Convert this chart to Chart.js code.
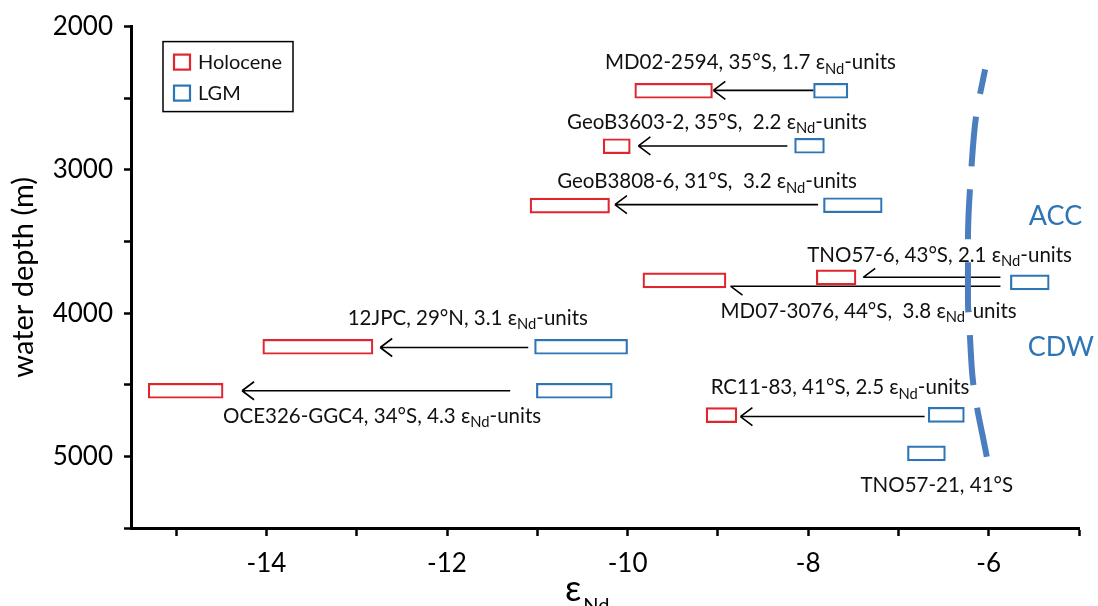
<!DOCTYPE html>
<html>
<head>
<meta charset="utf-8">
<script src="https://cdn.jsdelivr.net/npm/chart.js@4.4.1/dist/chart.umd.min.js"></script>
<style>
    html, body { margin: 0; padding: 0; background: #fff; }
    #wrap { width: 1098px; height: 606px; }
</style>
</head>
<body>
<div id="wrap"><canvas id="chart"></canvas></div>
<script>
// εNd ranges and water depths (m)
const holoceneCores = ['MD02-2594', 'GeoB3603-2', 'GeoB3808-6', 'TNO57-6', 'MD07-3076', '12JPC', 'OCE326-GGC4', 'RC11-83'];
const holoceneMin = [-9.92, -10.27, -11.08, -7.91, -9.83, -14.04, -15.31, -9.13];
const holoceneMax = [-9.06, -9.97, -10.20, -7.47, -8.91, -12.82, -14.48, -8.79];
const holoceneDepth = [2448, 2835, 3250, 3750, 3771, 4235, 4542, 4712];

const lgmCores = ['MD02-2594', 'GeoB3603-2', 'GeoB3808-6', 'TNO57-6 / MD07-3076', '12JPC', 'OCE326-GGC4', 'RC11-83', 'TNO57-21'];
const lgmMin = [-7.94, -8.15, -7.83, -5.76, -11.03, -11.01, -6.67, -6.90];
const lgmMax = [-7.56, -7.82, -7.18, -5.33, -10.00, -10.17, -6.27, -6.48];
const lgmDepth = [2448, 2832, 3247, 3785, 4235, 4542, 4710, 4979];

// arrows LGM -> Holocene
const arrowFrom = [-7.94, -8.23, -7.89, -5.87, -5.87, -11.10, -11.30, -6.71];
const arrowTo = [-9.05, -9.88, -10.14, -7.39, -8.86, -12.74, -14.27, -8.75];
const arrowDepth = [2445, 2833, 3243, 3750, 3812, 4240, 4542, 4722];
const arrowHead = ['full', 'full', 'full', 'up', 'down', 'full', 'full', 'full'];

// core labels, {..} = subscript
const labelText = ['MD02-2594, 35°S, 1.7 ε{Nd}-units', 'GeoB3603-2, 35°S,  2.2 ε{Nd}-units', 'GeoB3808-6, 31°S,  3.2 ε{Nd}-units',
    'TNO57-6, 43°S, 2.1 ε{Nd}-units', 'MD07-3076, 44°S,  3.8 ε{Nd}-units', '12JPC, 29°N, 3.1 ε{Nd}-units',
    'OCE326-GGC4, 34°S, 4.3 ε{Nd}-units', 'RC11-83, 41°S, 2.5 ε{Nd}-units', 'TNO57-21, 41°S'];
const labelX = [-10.25, -10.67, -10.78, -8.01, -8.97, -13.10, -14.48, -9.08, -7.42];
const labelDepth = [2253, 2667, 3083, 3597, 3986, 4035, 4722, 4521, 5201];

// ACC / CDW boundary
const frontX = [-6.04, -6.14, -6.19, -6.23, -6.23, -6.21, -6.17, -6.02];
const frontDepth = [2299, 2625, 2972, 3493, 3910, 4139, 4500, 5007];
const waterMasses = ['ACC', 'CDW'];
const waterMassX = [-5.26, -5.20];
const waterMassDepth = [3326, 4236];

const xTickValues = [-15, -14, -13, -12, -11, -10, -9, -8, -7, -6, -5];
const yTickValues = [2000, 2500, 3000, 3500, 4000, 4500, 5000, 5500];

const RED = '#e0262c';
const BLUE = '#2e75b6';
const FONT = 'Lato, "Noto Sans", sans-serif';

function drawRich(ctx, text, px, py, size) {
    const parts = text.split(/\{|\}/);
    ctx.textBaseline = 'middle';
    ctx.textAlign = 'left';
    parts.forEach((p, k) => {
        const sub = k % 2 === 1;
        ctx.font = (sub ? size * 0.72 : size) + 'px ' + FONT;
        ctx.fillText(p, px, py + (sub ? size * 0.3 : 0));
        px += ctx.measureText(p).width;
    });
}

const annotations = {
    id: 'annotations',
    beforeDatasetsDraw(chart) {
        const { ctx, chartArea, scales: { x, y } } = chart;
        ctx.save();
        // arrows
        ctx.strokeStyle = '#000';
        ctx.lineWidth = 1.6;
        arrowFrom.forEach((from, i) => {
            const x0 = x.getPixelForValue(from);
            const x1 = x.getPixelForValue(arrowTo[i]);
            const py = y.getPixelForValue(arrowDepth[i]);
            ctx.beginPath();
            ctx.moveTo(x0, py);
            ctx.lineTo(x1, py);
            if (arrowHead[i] !== 'down') { ctx.moveTo(x1 + 12, py - 9); ctx.lineTo(x1, py); }
            if (arrowHead[i] !== 'up') { ctx.moveTo(x1, py); ctx.lineTo(x1 + 12, py + 9); }
            ctx.stroke();
        });
        // core labels
        ctx.fillStyle = '#111';
        labelText.forEach((t, i) => {
            drawRich(ctx, t, x.getPixelForValue(labelX[i]), y.getPixelForValue(labelDepth[i]), 20.5);
        });
        // water masses
        ctx.fillStyle = BLUE;
        ctx.font = '27px ' + FONT;
        ctx.textAlign = 'center';
        waterMasses.forEach((t, i) => {
            ctx.fillText(t, x.getPixelForValue(waterMassX[i]), y.getPixelForValue(waterMassDepth[i]));
        });
        // legend
        const lx = chartArea.left + 32, ly = chartArea.top + 15;
        ctx.strokeStyle = '#000';
        ctx.lineWidth = 1.5;
        ctx.strokeRect(lx, ly, 130, 70);
        [['Holocene', RED], ['LGM', BLUE]].forEach(([name, col], k) => {
            const ry = ly + 13 + k * 31;
            ctx.strokeStyle = col;
            ctx.lineWidth = 2.2;
            ctx.strokeRect(lx + 11, ry, 16, 15);
            ctx.fillStyle = '#111';
            ctx.font = '20px ' + FONT;
            ctx.textAlign = 'left';
            ctx.textBaseline = 'middle';
            ctx.fillText(name, lx + 35, ry + 8);
        });
        // x-axis title
        const tx = (chartArea.left + chartArea.right) / 2 - 40;
        ctx.fillStyle = '#000';
        ctx.textBaseline = 'alphabetic';
        ctx.font = '36px ' + FONT;
        ctx.fillText('ε', tx, 601);
        const w = ctx.measureText('ε').width;
        ctx.font = '20px ' + FONT;
        ctx.fillText('Nd', tx + w + 2, 612);
        ctx.restore();
    }
};

const ctx = document.querySelector('#chart').getContext('2d');
const chart = new Chart(ctx, {
    type: 'bar',
    data: {
        datasets: [{
            label: 'Holocene',
            data: holoceneDepth.map((d, i) => ({ x: [holoceneMin[i], holoceneMax[i]], y: d })),
            backgroundColor: '#fff',
            borderColor: RED,
            borderWidth: 2.2,
            borderSkipped: false,
            barThickness: 15,
            stack: 'cores',
            order: 2
        }, {
            label: 'LGM',
            data: lgmDepth.map((d, i) => ({ x: [lgmMin[i], lgmMax[i]], y: d })),
            backgroundColor: '#fff',
            borderColor: BLUE,
            borderWidth: 2.2,
            borderSkipped: false,
            barThickness: 15,
            stack: 'cores',
            order: 2
        }, {
            type: 'line',
            label: 'ACC / CDW',
            data: frontDepth.map((d, i) => ({ x: frontX[i], y: d })),
            borderColor: '#4a7ebf',
            borderWidth: 6,
            borderDash: [50, 23],
            borderDashOffset: 25,
            borderCapStyle: 'butt',
            cubicInterpolationMode: 'monotone',
            pointRadius: 0,
            fill: false,
            order: 1
        }]
    },
    options: {
        indexAxis: 'y',
        responsive: true,
        maintainAspectRatio: false,
        animation: false,
        events: [],
        layout: { padding: { top: 25, right: 19, left: 0, bottom: 0 } },
        plugins: { legend: { display: false }, tooltip: { enabled: false } },
        scales: {
            x: {
                type: 'linear',
                min: -15.5,
                max: -5,
                stacked: false,
                offset: false,
                afterBuildTicks: s => { s.ticks = xTickValues.map(v => ({ value: v })); },
                afterFit: s => { s.height = 78; },
                ticks: {
                    autoSkip: false,
                    maxRotation: 0,
                    padding: 12,
                    color: '#000',
                    font: { family: FONT, size: 26 },
                    callback: v => (v % 2 === 0 ? String(v) : '')
                },
                grid: { drawOnChartArea: false, offset: false, tickLength: 8, tickWidth: 2.5, tickColor: '#000' },
                border: { color: '#000', width: 3 }
            },
            y: {
                type: 'linear',
                reverse: true,
                min: 2000,
                max: 5500,
                offset: false,
                afterBuildTicks: s => { s.ticks = yTickValues.map(v => ({ value: v })); },
                afterFit: s => { s.width = 131; },
                ticks: {
                    autoSkip: false,
                    padding: 11,
                    color: '#000',
                    font: { family: FONT, size: 26 },
                    callback: v => (v % 1000 === 0 ? String(v) : '')
                },
                title: {
                    display: true,
                    text: 'water depth (m)',
                    color: '#000',
                    font: { family: FONT, size: 29 },
                    padding: { top: 6, bottom: 0 }
                },
                grid: { drawOnChartArea: false, offset: false, tickLength: 7, tickWidth: 2.5, tickColor: '#000' },
                border: { color: '#000', width: 3 }
            }
        }
    },
    plugins: [annotations]
});
</script>
</body>
</html>
